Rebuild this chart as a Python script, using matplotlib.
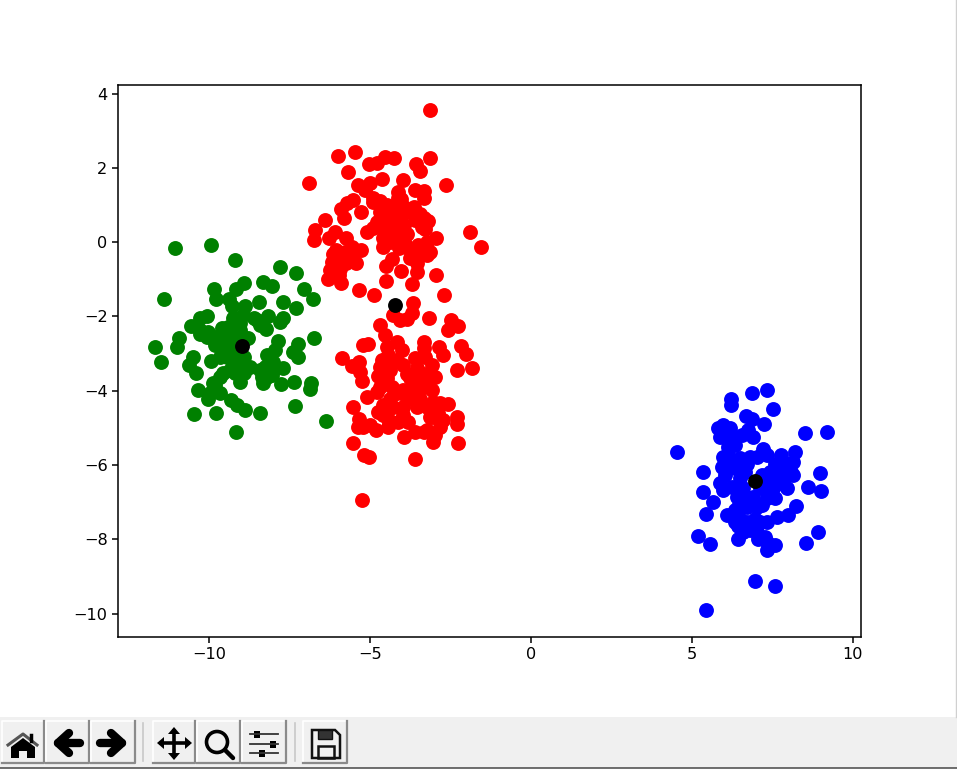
import matplotlib
matplotlib.use("Agg")
import matplotlib.pyplot as plt
from matplotlib.patches import Rectangle, Polygon, Circle

red_x = [-3.15, -5.99, -5.48, -5.70, -6.91, -5.02, -4.77, -4.53, -4.25, -3.57, -3.45, -3.15, -2.64, -5.37, -5.00, -4.64, -5.15, -4.90, -3.99, -4.12, -3.60, -3.31, -3.32, -5.54, -5.72, -5.91, -5.29, -5.81, -6.41, -6.70, -6.74, -6.09, -6.27, -5.75, -5.08, -1.89, -1.56,
         -4.48, -4.28, -4.69, -4.38, -4.79, -4.59, -4.17, -4.90, -4.38, -3.91, -3.65, -4.07, -3.86, -4.59, -4.38, -4.59, -4.17, -3.34, -3.60, -3.19, -3.40, -3.29, -2.95, -3.24, -3.50, -3.76, -3.55, -3.24, -3.76,
         -6.14, -6.19, -6.24, -5.93, -5.78, -5.57, -5.29, -5.43, -5.93, -5.98, -6.32, -5.89, -4.33, -4.50, -4.03, -3.55, -3.53, -4.50, -3.71, -2.96, -5.33, -4.87, -2.69, -3.66,
         -3.71, -3.86, -4.07, -4.28, -3.16, -2.50, -2.26, -2.57, -4.69, -4.53, -5.05, -5.21, -4.17, -4.48, -4.02, -3.34, -3.34, -2.85, -2.72, -2.17, -2.02, -2.31, -1.84, -5.86, -5.33, -5.57, -5.31, -5.24,
         -4.43, -4.69, -4.74, -4.38, -3.97, -3.60, -3.55, -3.09, -3.14, -3.76, -5.10, -4.79, -4.33, -3.97, -3.60, -3.09, -4.38, -3.86, -3.45, -3.03, -2.83, -2.57, -4.59, -4.74, -3.97, -5.53, -5.33, -5.36,
         -5.00, -4.81, -4.43, -4.43, -3.97, -3.94, -3.60, -3.34, -3.03, -2.72, -2.98, -3.05, -2.31, -2.31, -5.53, -5.18, -5.03, -3.61, -2.26, -5.25,
         -4.30, -4.60, -4.10, -4.55, -4.20, -3.95, -4.10, -3.90, -3.30, -3.45, -3.14, -6.00, -6.05, -5.75, -6.10, -5.60, -4.90, -4.70, -4.12, -4.05, -3.95,
         -4.17, -3.86, -3.34, -2.98, -4.69, -4.17, -3.65, -3.34, -3.55, -3.24, -3.14, -2.88, -4.28, -4.59, -4.12, -3.81, -4.43, -5.21, -3.24, -2.83, -4.64, -4.38, -3.29, -4.48]
red_y = [3.55, 2.31, 2.42, 1.89, 1.58, 2.10, 2.12, 2.28, 2.27, 2.09, 1.91, 2.26, 1.53, 1.55, 1.58, 1.71, 1.40, 1.18, 1.67, 1.36, 1.40, 1.38, 1.19, 1.13, 1.04, 0.89, 0.82, 0.64, 0.60, 0.32, 0.07, 0.28, 0.12, 0.12, 0.28, 0.28, -0.12,
         0.99, 0.91, 0.82, 0.64, 0.55, 0.41, 0.46, 0.37, 0.28, 0.82, 0.95, 0.19, 0.23, 0.10, 0.01, -0.12, 0.01, 0.64, 0.59, 0.57, 0.41, 0.55, 0.12, 0.01, -0.08, -0.21, -0.35, -0.35, -0.44,
         -0.33, -0.53, -0.75, -0.44, -0.26, -0.12, -0.20, -0.57, -0.71, -0.89, -0.98, -1.11, -0.46, -0.64, -0.77, -0.57, -0.80, -1.05, -1.14, -0.89, -1.29, -1.41, -1.41, -1.65,
         -1.92, -2.08, -2.10, -1.96, -2.03, -2.10, -2.26, -2.37, -2.22, -2.50, -2.73, -2.77, -2.68, -2.82, -2.91, -2.68, -2.86, -2.83, -3.04, -2.80, -3.02, -3.43, -3.40, -3.11, -3.22, -3.34, -3.49, -3.73,
         -3.04, -3.36, -3.61, -3.44, -3.31, -3.13, -3.40, -3.31, -3.67, -3.67, -4.16, -4.03, -3.89, -3.98, -3.98, -3.98, -4.21, -4.21, -4.21, -4.30, -4.34, -4.37, -4.39, -4.57, -4.43, -4.43, -4.75, -4.97,
         -4.92, -5.06, -4.75, -4.99, -4.66, -5.24, -5.10, -5.10, -4.70, -4.79, -5.19, -5.37, -4.70, -4.90, -5.42, -5.73, -5.78, -5.85, -5.42, -6.94,
         0.75, 0.70, 0.65, 0.20, 0.25, 0.45, -0.15, -0.05, 0.35, 0.75, -0.26, -0.60, -0.20, -0.55, -0.85, -0.35, 1.08, 1.10, 1.18, 1.15, 0.95,
         -3.18, -3.54, -3.54, -3.64, -3.89, -4.07, -3.76, -3.89, -4.43, -4.43, -4.70, -4.61, -4.43, -4.66, -4.83, -4.83, -4.52, -4.97, -5.06, -4.97, -3.18, -3.22, -3.09, -3.67]

green_x = [-11.07, -9.95, -9.20, -7.81, -7.30, -7.06, -6.78, -11.40, -9.85, -9.80, -8.91, -9.16, -9.37, -9.30, -8.33, -8.05, -8.46, -7.69, -7.30, -8.88, -8.95, -9.27, -8.52, -8.16, -7.69, -7.80, -8.23,
           -10.07, -10.28, -10.56, -10.02, -10.28, -9.61, -9.76, -9.04, -8.78, -10.92, -11.00, -11.68, -11.48, -10.51, -10.61, -10.40, -9.95, -6.74, -7.87, -7.25, -7.38, -7.23, -7.95, -8.21, -8.00, -7.69,
           -8.26, -8.37, -8.33, -8.05, -7.77, -7.35, -6.82, -6.88, -7.34, -6.37, -9.56, -9.45, -9.14, -9.35, -8.73, -8.93, -9.04, -9.66, -9.87, -10.33, -10.02, -9.66, -9.33, -9.14, -8.88, -8.42, -9.80,
           -10.47, -9.15, -9.19, -9.40, -9.19, -8.93,
           -9.56, -9.81, -9.45, -9.66, -9.35, -9.19, -9.56, -9.81, -10.07, -9.04, -9.40, -8.62, -8.42, -8.00, -8.42, -8.21, -10.28, -9.81, -9.97]
green_y = [-0.16, -0.08, -0.48, -0.68, -0.84, -1.25, -1.54, -1.53, -1.27, -1.52, -1.11, -1.25, -1.52, -1.72, -1.07, -1.18, -1.61, -1.61, -1.78, -1.72, -1.96, -2.05, -2.10, -1.99, -2.03, -2.14, -2.34,
           -1.99, -2.03, -2.26, -2.41, -2.46, -2.32, -2.64, -2.37, -2.59, -2.59, -2.82, -2.82, -3.24, -3.09, -3.31, -3.52, -3.19, -2.58, -2.66, -2.73, -2.96, -3.09, -2.91, -3.04, -3.22, -3.40,
           -3.36, -3.62, -3.80, -3.58, -3.83, -3.76, -3.80, -3.96, -4.40, -4.81, -2.82, -3.09, -3.26, -3.44, -3.36, -3.53, -3.76, -3.62, -3.80, -3.98, -4.21, -4.07, -4.25, -4.39, -4.52, -4.61, -4.59,
           -4.64, -5.12, -2.64, -2.46, -2.91, -3.09,
           -2.55, -2.77, -2.82, -3.09, -3.13, -3.53, -3.53, -2.55, -2.55, -2.19, -2.28, -2.05, -2.23, -3.44, -3.44, -3.62, -2.37, -3.85, -4.07]

blue_x = [7.34, 6.86, 6.21, 6.21, 7.53, 6.68, 6.85, 7.25, 5.97, 5.82, 6.18, 5.87, 8.51, 9.20, 4.54, 6.75, 6.90, 6.33, 6.13, 7.21, 8.20, 7.78, 7.32, 5.97, 6.49, 6.80, 8.15, 7.58, 5.92, 6.34, 5.33, 8.97, 8.15,
          6.65, 7.42, 7.84, 5.87, 6.23, 6.59, 7.11, 7.53, 7.94, 8.59, 9.02, 5.35, 5.66, 6.39, 6.70, 7.32, 7.58, 7.19, 6.70, 6.33, 6.08, 5.42, 8.23, 7.99, 7.63, 7.32, 6.96, 6.70, 6.44, 6.80, 8.92, 5.20,
          5.56, 6.44, 7.06, 7.27, 7.58, 7.32, 8.54, 6.96, 7.58, 5.42,
          6.34, 6.08, 6.54, 6.13, 6.23, 6.70, 7.01, 7.16, 7.58, 7.99, 7.84, 8.09, 7.53, 7.84, 7.27, 6.49, 6.39, 6.02, 5.97, 6.90, 7.01, 6.44, 6.49, 7.11, 7.01, 6.59, 6.33, 7.42, 7.32]
blue_y = [-3.99, -4.07, -4.23, -4.39, -4.48, -4.67, -4.77, -4.89, -4.91, -5.00, -5.00, -5.24, -5.13, -5.12, -5.65, -5.06, -5.24, -5.46, -5.51, -5.57, -5.66, -5.73, -5.73, -5.78, -5.82, -5.78, -5.93, -5.96, -6.05, -6.09, -6.18, -6.21, -6.27,
          -6.18, -6.18, -6.27, -6.48, -6.58, -6.63, -6.63, -6.63, -6.63, -6.58, -6.70, -6.74, -6.99, -6.85, -6.90, -6.90, -6.90, -7.08, -7.12, -7.21, -7.35, -7.31, -7.10, -7.35, -7.39, -7.53, -7.44, -7.53, -7.63, -7.75, -7.80, -7.91,
          -8.12, -7.99, -7.98, -7.93, -8.15, -8.29, -8.11, -9.12, -9.25, -9.89,
          -5.24, -5.28, -5.19, -5.73, -5.91, -5.96, -5.78, -6.27, -6.18, -5.96, -5.91, -6.18, -6.45, -6.50, -6.50, -6.36, -6.63, -6.27, -6.67, -6.85, -7.12, -7.12, -7.44, -7.53, -7.80, -7.80, -7.53, -8.15, -8.07]

center_x = [-4.22, -8.97, 6.95]
center_y = [-1.70, -2.79, -6.42]

xticks = [-10, -5, 0, 5, 10]
yticks = [-10, -8, -6, -4, -2, 0, 2, 4]

W, H = 957, 769
fig = plt.figure(figsize=(W / 100, H / 100), dpi=100)
ax = fig.add_axes([118 / W, (H - 637) / H, 743 / W, 552 / H])

size = 115
ax.scatter(red_x, red_y, c='red', s=size, linewidths=0)
ax.scatter(green_x, green_y, c='green', s=size, linewidths=0)
ax.scatter(blue_x, blue_y, c='blue', s=size, linewidths=0)
ax.scatter(center_x, center_y, c='black', s=size, linewidths=0)

ax.set_xlim(-12.83, 10.25)
ax.set_ylim(-10.63, 4.23)
ax.set_xticks(xticks)
ax.set_yticks(yticks)
ax.tick_params(labelsize=11.6, length=4, width=1.1)
for s in ax.spines.values():
    s.set_linewidth(1.1)

# toolbar strip under the figure, drawn in pixel coordinates
tb = fig.add_axes([0, 0, 1, 1], zorder=5)
tb.set_xlim(0, W)
tb.set_ylim(H, 0)
tb.axis('off')
tb.patch.set_alpha(0)
tb.add_patch(Rectangle((0, 717), W, 51, fc='#f0f0f0', ec='none'))
tb.plot([0, W], [768.3, 768.3], color='#555555', lw=1.2)
tb.plot([956, 956], [0, 717], color='#d0d0d0', lw=1)

for x0, x1 in [(2, 44), (46, 89), (91, 135), (153, 195), (197, 240), (242, 286), (303, 347)]:
    tb.add_patch(Rectangle((x0, 721), x1 - x0, 42, fc='#f0f0f0', ec='none'))
    tb.plot([x0, x0, x1], [763, 721, 721], color='#ffffff', lw=1.2)
    tb.plot([x0, x1, x1], [763, 763, 721], color='#8a8a8a', lw=1.6)
for x in [143, 295]:
    tb.plot([x, x], [723, 761], color='#c8c8c8', lw=1.2)

# home
tb.add_patch(Polygon([(11, 747), (23, 738), (35, 747), (35, 758), (27, 758), (27, 751), (19, 751), (19, 758), (11, 758)], fc='black'))
tb.plot([8, 23, 37], [745, 734, 745], color='#555555', lw=2.2)
tb.plot([31, 31], [735, 741], color='black', lw=2.5)
# back / forward
tb.plot([58, 80], [743, 743], color='black', lw=6, solid_capstyle='round')
tb.plot([69, 58, 69], [733, 743, 753], color='black', lw=6, solid_capstyle='round', solid_joinstyle='round')
tb.plot([100, 122], [743, 743], color='black', lw=6, solid_capstyle='round')
tb.plot([111, 122, 111], [733, 743, 753], color='black', lw=6, solid_capstyle='round', solid_joinstyle='round')
# move
tb.plot([161, 188], [743, 743], color='black', lw=2.6)
tb.plot([174, 174], [731, 755], color='black', lw=2.6)
tb.add_patch(Polygon([(157, 743), (164, 737), (164, 749)], fc='black'))
tb.add_patch(Polygon([(192, 743), (185, 737), (185, 749)], fc='black'))
tb.add_patch(Polygon([(174, 727), (168, 734), (180, 734)], fc='black'))
tb.add_patch(Polygon([(174, 760), (168, 753), (180, 753)], fc='black'))
# zoom
tb.add_patch(Circle((217, 742), 10.5, fc='none', ec='black', lw=2.6))
tb.plot([225, 233], [750, 758], color='black', lw=3.2, solid_capstyle='round')
# sliders
for y, kx in [(734, 257), (744, 273), (753, 262)]:
    tb.plot([250, 278], [y, y], color='#333333', lw=1.3)
    tb.add_patch(Rectangle((kx - 3, y - 3.5), 6, 7, fc='black', ec='none'))
# save
tb.add_patch(Polygon([(312, 730), (335, 730), (340, 735), (340, 758), (312, 758)], fc='none', ec='#111111', lw=1.8))
tb.add_patch(Rectangle((318, 730), 14, 9, fc='#333333', ec='#111111', lw=1))
tb.add_patch(Rectangle((318, 746), 16, 12, fc='none', ec='#111111', lw=1.8))

fig.savefig('out.png', dpi=100)
